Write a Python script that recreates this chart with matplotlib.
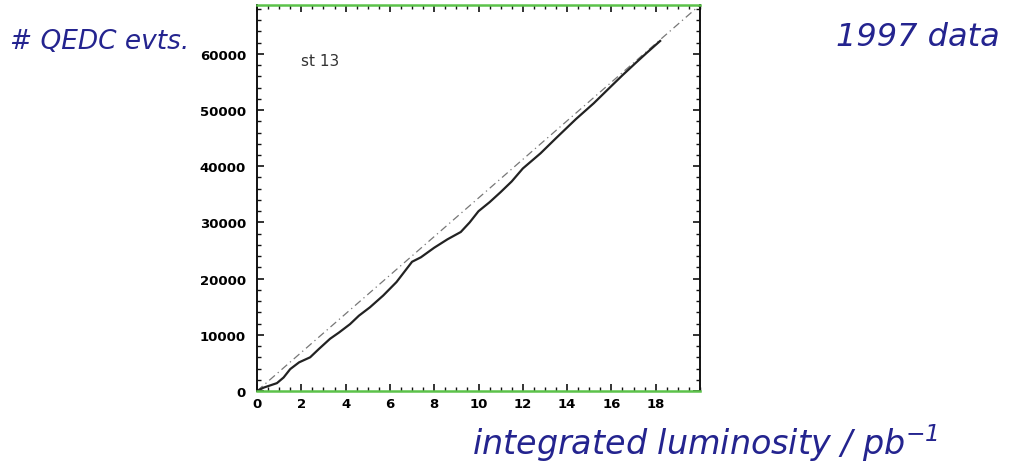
import matplotlib
matplotlib.use("Agg")
import matplotlib.pyplot as plt
from matplotlib.ticker import MultipleLocator

# Cumulative QED Compton event count versus integrated luminosity (station 13)
lumi = [0.0, 0.3, 0.9, 1.2, 1.5, 1.9, 2.4, 2.8, 3.3, 3.7, 4.2, 4.6, 5.1, 5.7,
        6.3, 7.0, 7.4, 8.0, 8.6, 9.2, 9.6, 10.0, 10.5, 11.0, 11.5, 12.0, 12.8,
        13.5, 14.4, 15.2, 15.9, 16.5, 17.1, 17.6, 18.2]
events = [0, 600, 1400, 2400, 3900, 5100, 6000, 7500, 9300, 10400, 11900, 13400,
          14900, 17000, 19400, 23000, 23800, 25500, 27000, 28300, 30000, 32000,
          33600, 35400, 37300, 39600, 42300, 45000, 48400, 51200, 53900, 56200,
          58400, 60200, 62300]

# Expected straight-line rate
ref_lumi = [0.0, 20.0]
ref_events = [0, 68700]

xticks = [0, 2, 4, 6, 8, 10, 12, 14, 16, 18]
yticks = [0, 10000, 20000, 30000, 40000, 50000, 60000]

plt.rcParams["mathtext.fontset"] = "custom"
plt.rcParams["mathtext.rm"] = "DejaVu Sans:oblique"
plt.rcParams["mathtext.it"] = "DejaVu Sans:oblique"

fig = plt.figure(figsize=(10.11, 4.77), dpi=100)
ax = fig.add_axes([257 / 1011, 85 / 477, 443 / 1011, 386 / 477])

ax.plot(ref_lumi, ref_events, color="#777777", lw=0.9, dashes=(6, 3, 1, 3))
ax.plot(lumi, events, color="#222222", lw=1.6)

ax.set_xlim(0, 20)
ax.set_ylim(0, 68700)
ax.set_xticks(xticks)
ax.set_yticks(yticks)
ax.xaxis.set_minor_locator(MultipleLocator(0.5))
ax.yaxis.set_minor_locator(MultipleLocator(2000))
ax.set_xticklabels([str(v) for v in xticks], fontsize=9.5, fontweight="bold")
ax.set_yticklabels([str(v) for v in yticks], fontsize=9.5, fontweight="bold")

ax.tick_params(which="both", direction="in", top=True, right=True, color="#111111")
ax.tick_params(which="major", length=5, width=1.2)
ax.tick_params(which="minor", length=3, width=1.0)
ax.tick_params(axis="y", pad=8)
ax.tick_params(axis="x", pad=4)

for side in ("left", "right"):
    ax.spines[side].set_color("#111111")
    ax.spines[side].set_linewidth(1.4)
for side in ("top", "bottom"):
    ax.spines[side].set_color("#5cc24a")
    ax.spines[side].set_linewidth(1.8)

ax.text(0.10, 0.855, "st 13", transform=ax.transAxes, fontsize=11,
        color="#333333", ha="left", va="center")

hand = dict(color="#24248f", family="DejaVu Sans", style="oblique")
fig.text(10 / 1011, 1 - 42 / 477, "# QEDC evts.", fontsize=19, ha="left",
         va="center", **hand)
fig.text(1000 / 1011, 1 - 38 / 477, "1997 data", fontsize=23, ha="right",
         va="center", **hand)
fig.text(705 / 1011, 1 - 443 / 477, r"integrated luminosity / pb$^{-1}$",
         fontsize=24, ha="center", va="center", **hand)

fig.savefig("out.png", dpi=100, facecolor="white")
